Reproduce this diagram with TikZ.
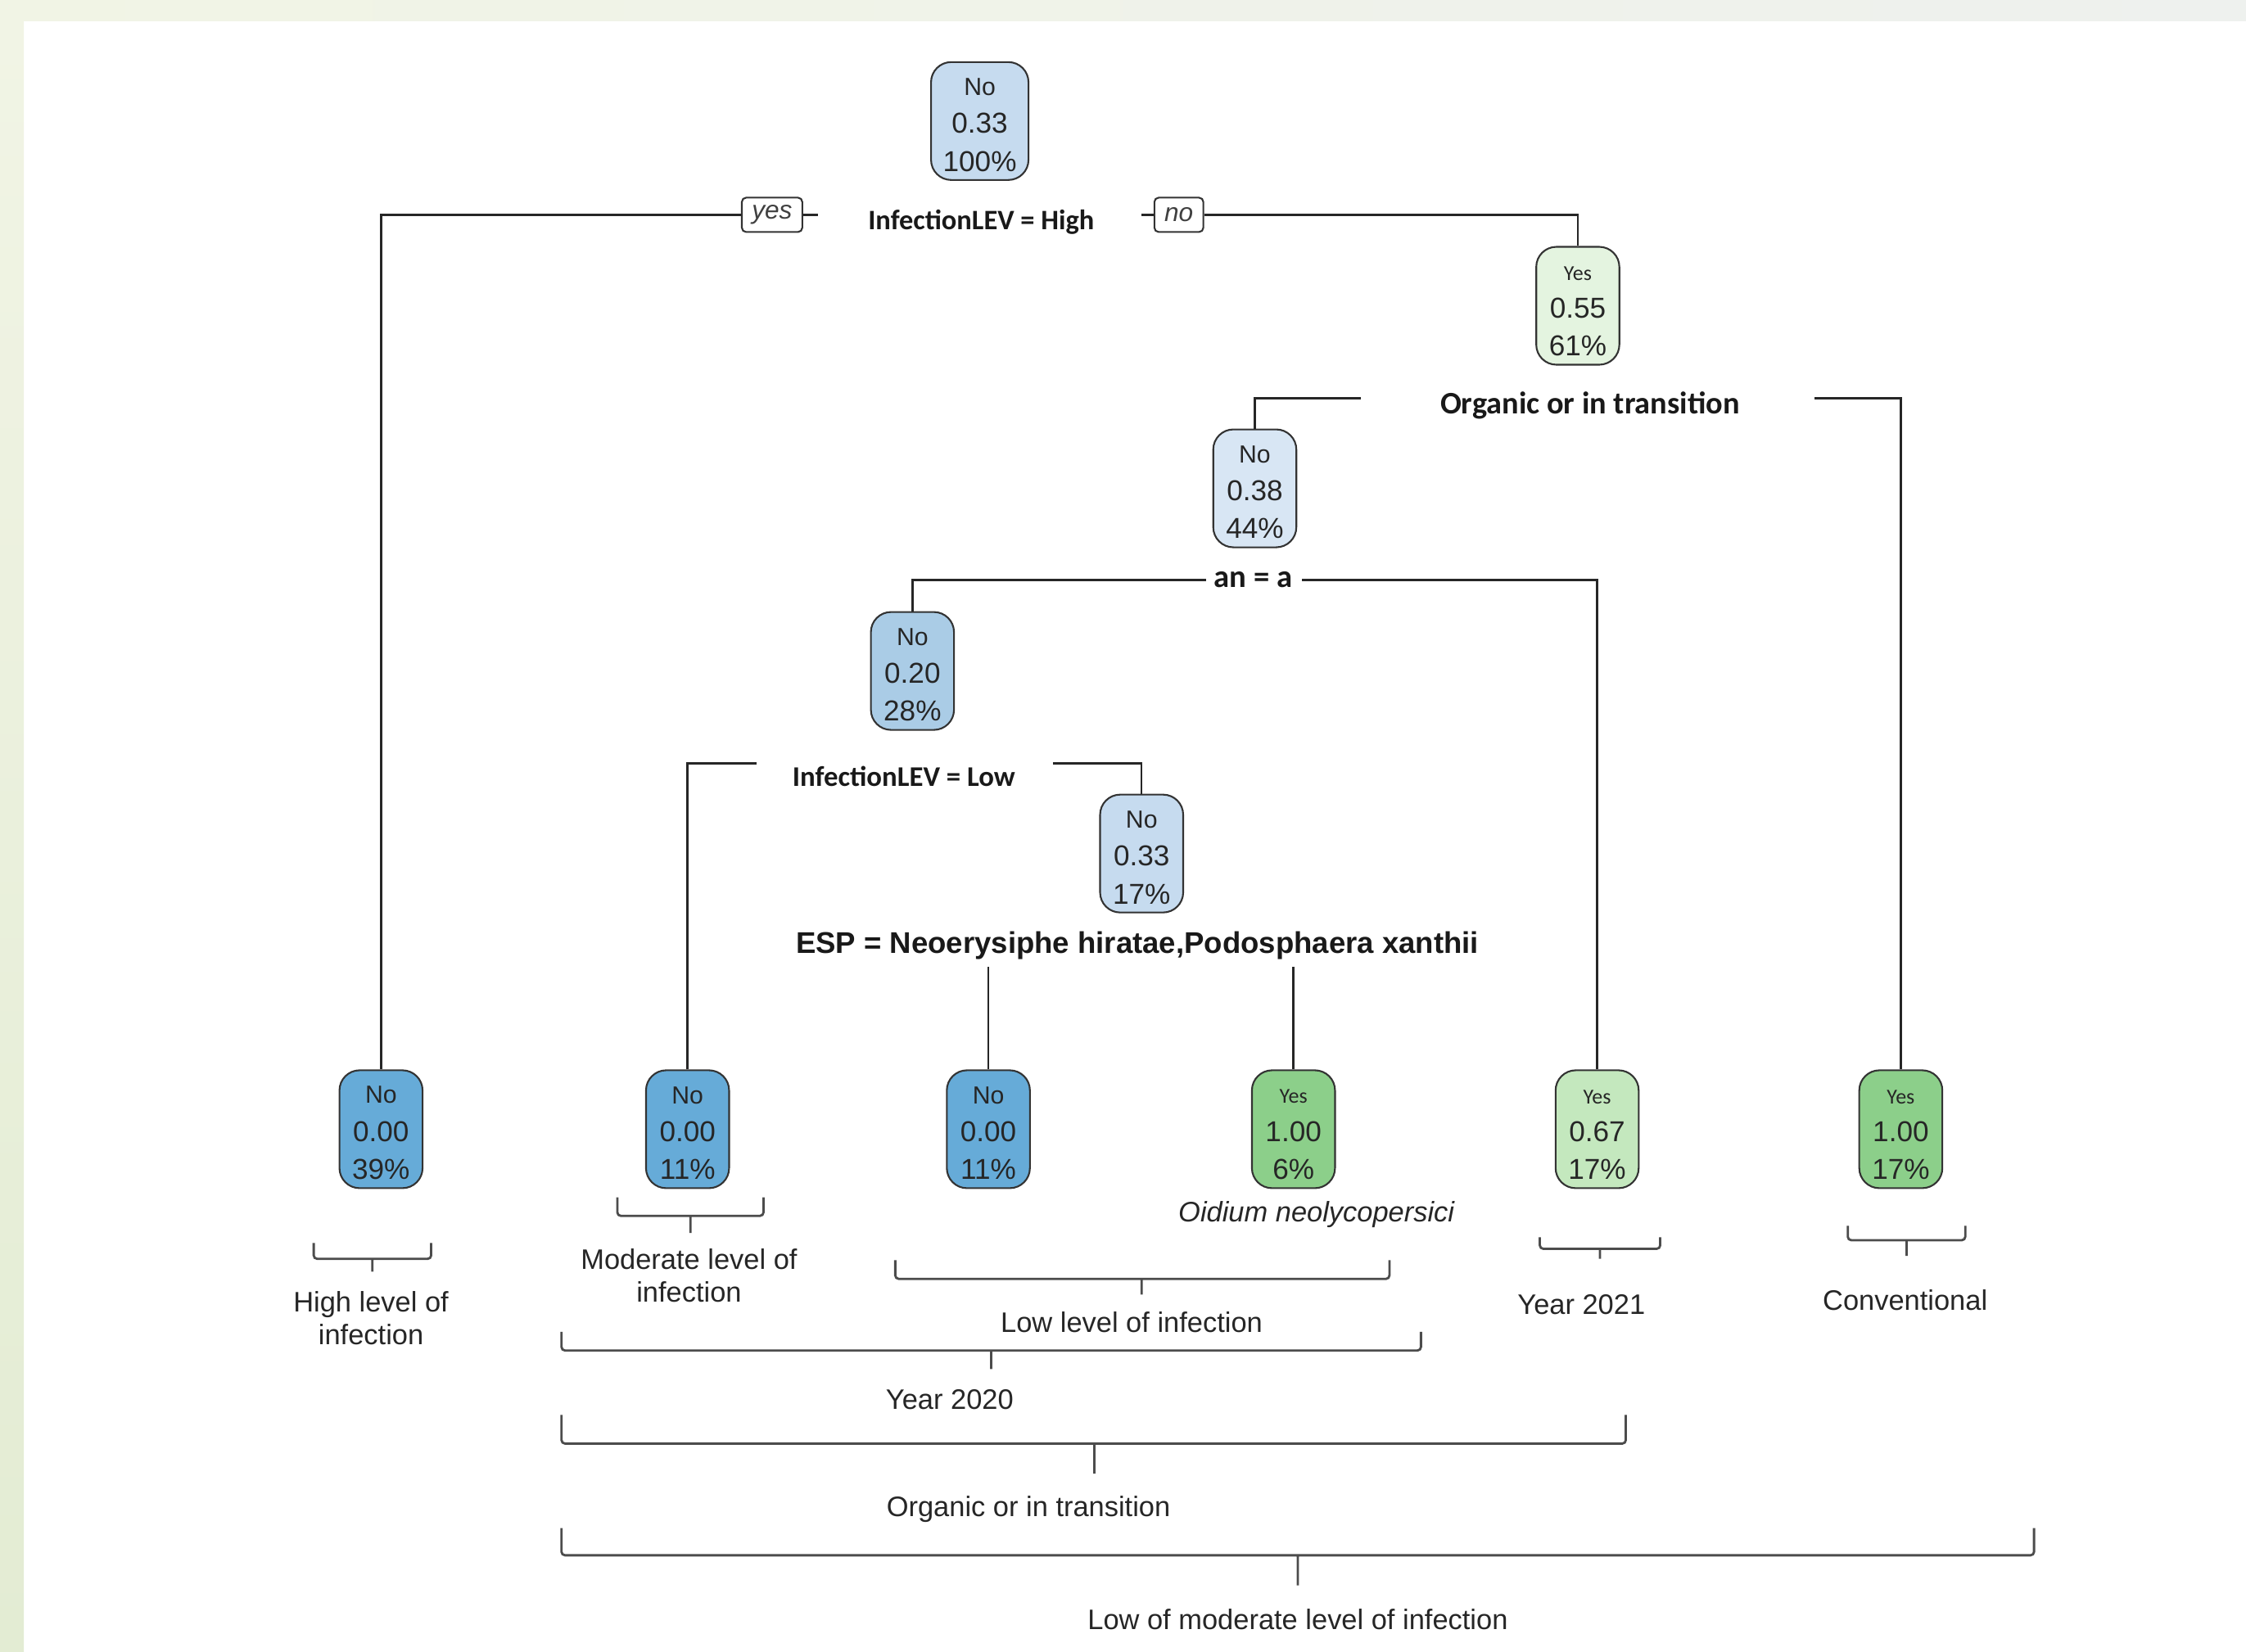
\documentclass[tikz,border=0pt]{standalone}
\usepackage{fontspec}
\setmainfont{Liberation Sans}
\newfontfamily\splitfont{Carlito}
\usepackage{xcolor}

\definecolor{bgA}{HTML}{F1F4E5}
\definecolor{bgB}{HTML}{EEF1EE}
\definecolor{bgC}{HTML}{E3ECD3}
\definecolor{blueMid}{HTML}{C6DBEF}
\definecolor{bluePale}{HTML}{D8E6F4}
\definecolor{blueDeep}{HTML}{AACCE6}
\definecolor{blueLeaf}{HTML}{66ABD8}
\definecolor{greenPale}{HTML}{E4F4E0}
\definecolor{greenMid}{HTML}{C4E8BE}
\definecolor{greenLeaf}{HTML}{8CCF8A}

\newcommand{\nolab}[1]{{\rule{0pt}{8.6pt}\fontsize{8.6}{13}\selectfont #1}}
\newcommand{\yeslab}[1]{{\rule{0pt}{8.6pt}\splitfont\fontsize{7.4}{13}\selectfont #1}}

\tikzset{
  tnode/.style={draw=black!80, line width=0.6pt, rounded corners=7pt, fill=#1,
    align=center, minimum width=1.015cm, minimum height=1.44cm,
    inner xsep=2pt, inner ysep=2pt, text=black!85,
    font=\fontsize{10}{13.2}\selectfont},
  edgetag/.style={draw=black!80, line width=0.6pt, rounded corners=1.5pt,
    minimum height=0.42cm, inner xsep=3.5pt, inner ysep=1pt, text=black!75,
    font=\itshape\fontsize{9}{10}\selectfont},
  splitlab/.style={inner sep=1pt, text=black!90,
    font=\splitfont\bfseries\fontsize{#1}{12}\selectfont},
  tree/.style={draw=black!85, line width=0.7pt},
  bracket/.style={draw=black!70, line width=0.8pt, rounded corners=1.2pt},
  note/.style={align=center, inner sep=1pt, text=black!85,
    font=\fontsize{9.8}{11.4}\selectfont}
}

\begin{document}
\begin{tikzpicture}[x=1.7494mm, y=-1.7494mm]
  % Frame
  \useasboundingbox (0,0) rectangle (156.8,115.3);
  \shade[left color=bgA, right color=bgB] (0,0) rectangle (156.8,1.43);
  \shade[top color=bgA, bottom color=bgC] (0,1.43) rectangle (1.66,115.3);

  % Root split
  \node[tnode=blueMid, minimum width=1.19cm] (root) at (68.4,8.45) {\nolab{No}\\0.33\\100\%};
  \node[splitlab=9.8] (sHigh) at (68.5,15.5) {InfectionLEV = High};
  \node[edgetag] (yesbox) at (53.9,15.0) {yes};
  \node[edgetag] (nobox) at (82.3,15.0) {no};
  \coordinate (rootL) at (57.1,15.0);
  \coordinate (rootR) at (79.7,15.0);

  % Organic or in transition
  \node[tnode=greenPale] (org) at (110.15,21.35) {\yeslab{Yes}\\0.55\\61\%};
  \node[splitlab=10.9] (sOrg) at (111.0,28.3) {Organic or in transition};
  \coordinate (orgL) at (95.0,27.8);
  \coordinate (orgR) at (126.7,27.8);

  % an = a
  \node[tnode=bluePale] (an) at (87.6,34.1) {\nolab{No}\\0.38\\44\%};
  \node[splitlab=11] (sAn) at (87.5,40.5) {an = a};
  \coordinate (anL) at (84.2,40.5);
  \coordinate (anR) at (90.9,40.5);

  % InfectionLEV = Low
  \node[tnode=blueDeep] (lev) at (63.7,46.85) {\nolab{No}\\0.20\\28\%};
  \node[splitlab=9.9] (sLow) at (63.1,54.2) {InfectionLEV = Low};
  \coordinate (lowL) at (52.8,53.3);
  \coordinate (lowR) at (73.5,53.3);

  % ESP
  \node[tnode=blueMid] (espn) at (79.7,59.6) {\nolab{No}\\0.33\\17\%};
  \node[inner sep=1pt, text=black!90, font=\bfseries\fontsize{10.4}{12}\selectfont]
    (sEsp) at (79.4,66.0) {ESP = Neoerysiphe hiratae,Podosphaera xanthii};
  \coordinate (espL) at (69.0,67.5);
  \coordinate (espR) at (90.3,67.5);

  % Leaves
  \node[tnode=blueLeaf] (high) at (26.6,78.85) {\nolab{No}\\0.00\\39\%};
  \node[tnode=blueLeaf] (moder) at (48.0,78.85) {\nolab{No}\\0.00\\11\%};
  \node[tnode=blueLeaf] (neo) at (69.0,78.85) {\nolab{No}\\0.00\\11\%};
  \node[tnode=greenLeaf] (oid) at (90.3,78.85) {\yeslab{Yes}\\1.00\\6\%};
  \node[tnode=greenMid] (y21) at (111.5,78.85) {\yeslab{Yes}\\0.67\\17\%};
  \node[tnode=greenLeaf] (conv) at (132.7,78.85) {\yeslab{Yes}\\1.00\\17\%};

  % Branches
  \draw[tree] (yesbox.west) -| (high.north);
  \draw[tree] (yesbox.east) -- (rootL);
  \draw[tree] (rootR) -- (nobox.west);
  \draw[tree] (nobox.east) -| (org.north);
  \draw[tree] (orgL) -| (an.north);
  \draw[tree] (orgR) -| (conv.north);
  \draw[tree] (anL) -| (lev.north);
  \draw[tree] (anR) -| (y21.north);
  \draw[tree] (lowL) -| (moder.north);
  \draw[tree] (lowR) -| (espn.north);
  \draw[tree] (espL) -- (neo.north);
  \draw[tree] (espR) -- (oid.north);

  % Group brackets
  \draw[bracket] (21.9,86.8) -- (21.9,87.9) -- (30.1,87.9) -- (30.1,86.8)
    (26.0,87.9) -- (26.0,88.8);
  \draw[bracket] (43.1,83.6) -- (43.1,84.9) -- (53.3,84.9) -- (53.3,83.6)
    (48.2,84.9) -- (48.2,86.1);
  \draw[bracket] (62.5,88.0) -- (62.5,89.3) -- (97.0,89.3) -- (97.0,88.0)
    (79.7,89.3) -- (79.7,90.4);
  \draw[bracket] (107.5,86.4) -- (107.5,87.2) -- (115.9,87.2) -- (115.9,86.4)
    (111.7,87.2) -- (111.7,87.9);
  \draw[bracket] (129.0,85.6) -- (129.0,86.6) -- (137.2,86.6) -- (137.2,85.6)
    (133.1,86.6) -- (133.1,87.7);
  \draw[bracket] (39.2,93.0) -- (39.2,94.3) -- (99.2,94.3) -- (99.2,93.0)
    (69.2,94.3) -- (69.2,95.6);
  \draw[bracket] (39.2,98.8) -- (39.2,100.8) -- (113.5,100.8) -- (113.5,98.8)
    (76.4,100.8) -- (76.4,102.9);
  \draw[bracket] (39.2,106.7) -- (39.2,108.6) -- (142.0,108.6) -- (142.0,106.7)
    (90.6,108.6) -- (90.6,110.7);

  % Group labels
  \node[note, font=\itshape\fontsize{9.8}{11.4}\selectfont] (tOid) at (91.9,84.8) {Oidium neolycopersici};
  \node[note] (tHigh) at (25.9,92.05) {High level of\\infection};
  \node[note] (tModer) at (48.1,89.05) {Moderate level of\\infection};
  \node[note] (tLow) at (79.0,92.3) {Low level of infection};
  \node[note] (tY21) at (110.4,91.1) {Year 2021};
  \node[note] (tConv) at (133.0,90.8) {Conventional};
  \node[note] (tY20) at (66.3,97.7) {Year 2020};
  \node[note] (tOrgT) at (71.8,105.4) {Organic or in transition};
  \node[note] (tAll) at (90.6,113.1) {Low of moderate level of infection};
\end{tikzpicture}
\end{document}
